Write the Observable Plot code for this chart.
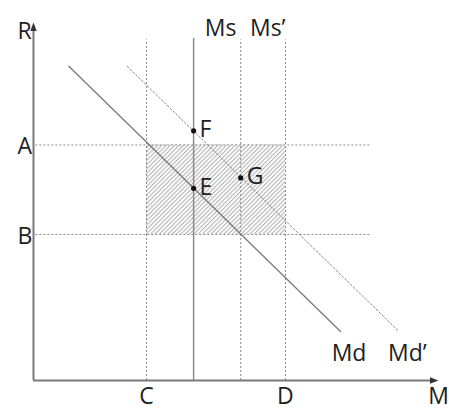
<!DOCTYPE html>
<html>
<head>
<meta charset="utf-8">
<script src="https://cdn.jsdelivr.net/npm/d3@7"></script>
<script src="https://cdn.jsdelivr.net/npm/@observablehq/plot@0.6"></script>
<style>
  html, body { margin: 0; padding: 0; background: #fff; }
</style>
</head>
<body>
<div id="chart"></div>
<script>
// Quantities of money (M) and interest rate (R), in arbitrary diagram units
const mC = 24;          // C
const mMs = 34;         // Ms (money supply)
const mMsPrime = 44;    // Ms'
const mD = 53.5;        // D
const rA = 50;          // A
const rB = 31;          // B
const lineTop = 72.3;   // top of the vertical guide lines
const msTop = 72.6;
const guideRight = 71.4;

const mdCurve = [{m: 7.5, r: 66.7}, {m: 65.2, r: 10.4}];
const mdPrimeCurve = [{m: 19.9, r: 66.7}, {m: 77.6, r: 10.4}];
const equilibria = [
  {label: "F", m: 34, r: 53},
  {label: "E", m: 34, r: 40.8},
  {label: "G", m: 44, r: 43}
];
const mTicks = [{label: "C", m: mC}, {label: "D", m: mD}, {label: "M", m: 86}];
const rTicks = [{label: "A", r: rA}, {label: "B", r: rB}, {label: "R", r: 74.4}];
const supplyLabels = [{label: "Ms", m: mMs}, {label: "Ms\u2019", m: mMsPrime}];
const demandLabels = [{label: "Md", m: 65.2, r: 10.4}, {label: "Md\u2019", m: 77.6, r: 10.4}];

const mMax = 86, rMax = 76;
const grey = "#8a8a8a";
const textColor = "#1e1e1e";
const fs = 23;

const chart = Plot.plot({
  width: 449,
  height: 417,
  marginLeft: 33,
  marginRight: 11,
  marginTop: 22,
  marginBottom: 37,
  x: {domain: [0, mMax], axis: null},
  y: {domain: [0, rMax], axis: null},
  style: {fontFamily: "'Open Sans', sans-serif", background: "#fff"},
  marks: [
    // hatched area
    Plot.rect([{x1: mC, x2: mD, y1: rB, y2: rA}], {x1: "x1", x2: "x2", y1: "y1", y2: "y2", fill: "url(#hatch)"}),
    // dotted guides
    Plot.ruleX([mC, mMsPrime, mD], {y1: 0, y2: lineTop, stroke: grey, strokeWidth: 1, strokeDasharray: "2,2"}),
    Plot.ruleY([rA, rB], {x1: 0.5, x2: guideRight, stroke: grey, strokeWidth: 1, strokeDasharray: "2,2"}),
    // money supply
    Plot.ruleX([mMs], {y1: 0, y2: msTop, stroke: grey, strokeWidth: 1.5}),
    // money demand curves
    Plot.line(mdCurve, {x: "m", y: "r", stroke: "#7a7a7a", strokeWidth: 1.3}),
    Plot.line(mdPrimeCurve, {x: "m", y: "r", stroke: grey, strokeWidth: 1, strokeDasharray: "2,2"}),
    // axes
    Plot.ruleX([0], {y1: 0, y2: rMax - 1.2, stroke: "#7a7a7a", strokeWidth: 2}),
    Plot.ruleY([0], {x1: 0, x2: mMax - 1.2, stroke: "#7a7a7a", strokeWidth: 2}),
    Plot.vector([{x: 0, y: rMax}], {x: "x", y: "y", rotate: 0, length: 8.5, r: 3.2, shape: "spike", anchor: "end", fill: "#333", stroke: "none"}),
    Plot.vector([{x: mMax, y: 0}], {x: "x", y: "y", rotate: 90, length: 8.5, r: 3.2, shape: "spike", anchor: "end", fill: "#333", stroke: "none"}),
    // points
    Plot.dot(equilibria, {x: "m", y: "r", r: 2.6, fill: "#111", stroke: "none"}),
    Plot.text(equilibria, {x: "m", y: "r", text: "label", textAnchor: "start", dx: 6, dy: -1, fontSize: fs, fill: textColor}),
    // axis labels
    Plot.text(mTicks, {x: "m", frameAnchor: "bottom", text: "label", dy: 23, fontSize: fs, fill: textColor}),
    Plot.text(rTicks, {y: "r", frameAnchor: "left", text: "label", dx: -16, dy: 2, fontSize: fs, fill: textColor}),
    Plot.text(supplyLabels, {x: "m", frameAnchor: "top", text: "label", dx: 27, dy: -3, fontSize: fs, fill: textColor}),
    Plot.text(demandLabels, {x: "m", y: "r", text: "label", dx: 8.5, dy: 22, fontSize: fs, fill: textColor})
  ]
});

// diagonal hatch pattern used by the rect
const defs = d3.select(chart).insert("defs", ":first-child");
const pat = defs.append("pattern")
  .attr("id", "hatch")
  .attr("patternUnits", "userSpaceOnUse")
  .attr("width", 3.05)
  .attr("height", 3.05)
  .attr("patternTransform", "rotate(45)");
pat.append("rect").attr("width", 3.05).attr("height", 3.05).attr("fill", "#fff");
pat.append("line")
  .attr("x1", 0.6).attr("y1", 0).attr("x2", 0.6).attr("y2", 3.05)
  .attr("stroke", "#acacac").attr("stroke-width", 1);

document.getElementById("chart").appendChild(chart);
</script>
</body>
</html>
